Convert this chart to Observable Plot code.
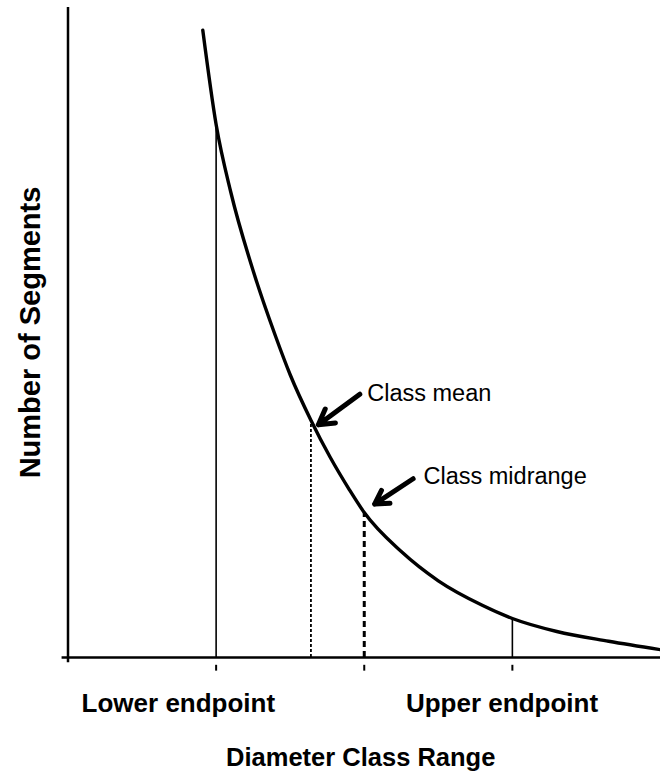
<!DOCTYPE html>
<html><head><meta charset="utf-8">
<script src="https://cdn.jsdelivr.net/npm/d3@7"></script>
<script src="https://cdn.jsdelivr.net/npm/@observablehq/plot@0.6"></script>
<style>body{margin:0;background:#fff} svg{display:block}</style>
</head><body><div id="chart"></div>
<script>
// Curve (diameter class position vs number of segments, arbitrary units)
const curveX = [0.91, 1.0, 1.1, 1.25, 1.4, 1.5, 1.64, 1.77, 1.9, 2.0, 2.25, 2.5, 2.8, 3.0, 3.3, 3.65, 4.0];
const curveY = [96.5, 82, 71.5, 59.5, 49.5, 43.5, 36.5, 30.8, 25.8, 22.3, 16.3, 11.8, 8.0, 6.0, 4.0, 2.5, 1.2];
// Guide lines: lower endpoint, class mean, class midrange, upper endpoint
const guideX = [1.0, 1.64, 2.0, 3.0];
const guideTop = [82, 36.5, 22.3, 6.0];
const guideKind = ["solid", "dotted", "dashed", "solid"];
const tickX = [1, 2, 3];
const endpointLabels = ["Lower endpoint", "Upper endpoint"];
const endpointLabelX = [0.745, 2.93];
const annotLabels = ["Class mean", "Class midrange"];
const annotX = [2.02, 2.40];
const annotY = [40.6, 27.8];
const arrowX1 = [1.97, 2.33];
const arrowY1 = [40.5, 27.5];
const arrowX2 = [1.69, 2.07];
const arrowY2 = [35.8, 23.6];

const curve = curveX.map((x, i) => ({x, y: curveY[i]}));
const guides = guideX.map((x, i) => ({x, top: guideTop[i], kind: guideKind[i]}));
const endpoints = endpointLabels.map((t, i) => ({t, x: endpointLabelX[i]}));
const annots = annotLabels.map((t, i) => ({t, x: annotX[i], y: annotY[i]}));
const arrows = arrowX1.map((x1, i) => ({x1, y1: arrowY1[i], x2: arrowX2[i], y2: arrowY2[i]}));

const font = "'Liberation Sans', Arial, Helvetica, sans-serif";
const chart = Plot.plot({
  width: 660, height: 776,
  marginLeft: 67.5, marginRight: 0, marginTop: 7, marginBottom: 119,
  x: {domain: [0, 4], axis: null},
  y: {domain: [0, 100], axis: null},
  style: {fontFamily: font, background: "#fff", color: "#000"},
  marks: [
    // axes
    Plot.ruleX([0], {y1: -0.8, y2: 100, stroke: "#000", strokeWidth: 2.5}),
    Plot.ruleY([0], {x1: -0.04, x2: 4, stroke: "#000", strokeWidth: 2.5}),
    Plot.ruleX(tickX, {y1: -1.2, y2: -2.1, stroke: "#000", strokeWidth: 2}),
    // guides
    Plot.ruleX(guides.filter(d => d.kind === "solid"), {x: "x", y1: 0, y2: "top", stroke: "#000", strokeWidth: 1.6}),
    Plot.ruleX(guides.filter(d => d.kind === "dotted"), {x: "x", y1: 0, y2: "top", stroke: "#000", strokeWidth: 1.8, strokeDasharray: "3,2"}),
    Plot.ruleX(guides.filter(d => d.kind === "dashed"), {x: "x", y1: 0, y2: "top", stroke: "#000", strokeWidth: 3, strokeDasharray: "6,4"}),
    // curve
    Plot.line(curve, {x: "x", y: "y", curve: "monotone-x", stroke: "#000", strokeWidth: 3.4}),
    // annotations
    Plot.arrow(arrows, {x1: "x1", y1: "y1", x2: "x2", y2: "y2", stroke: "#000", strokeWidth: 5, headLength: 13, headAngle: 60}),
    Plot.text(annots, {x: "x", y: "y", text: "t", textAnchor: "start", fontSize: 23.5, fill: "#000"}),
    // labels
    Plot.text(endpoints, {x: "x", y: -7.1, text: "t", fontSize: 26, fontWeight: "bold", fill: "#000"}),
    Plot.text(["Diameter Class Range"], {x: 1.976, y: -15.4, text: d => d, fontSize: 25.5, fontWeight: "bold", fill: "#000"}),
    Plot.text(["Number of Segments"], {x: -0.253, y: 50, text: d => d, rotate: -90, fontSize: 29, fontWeight: "bold", fill: "#000"})
  ]
});
document.getElementById("chart").appendChild(chart);
</script>
</body></html>
